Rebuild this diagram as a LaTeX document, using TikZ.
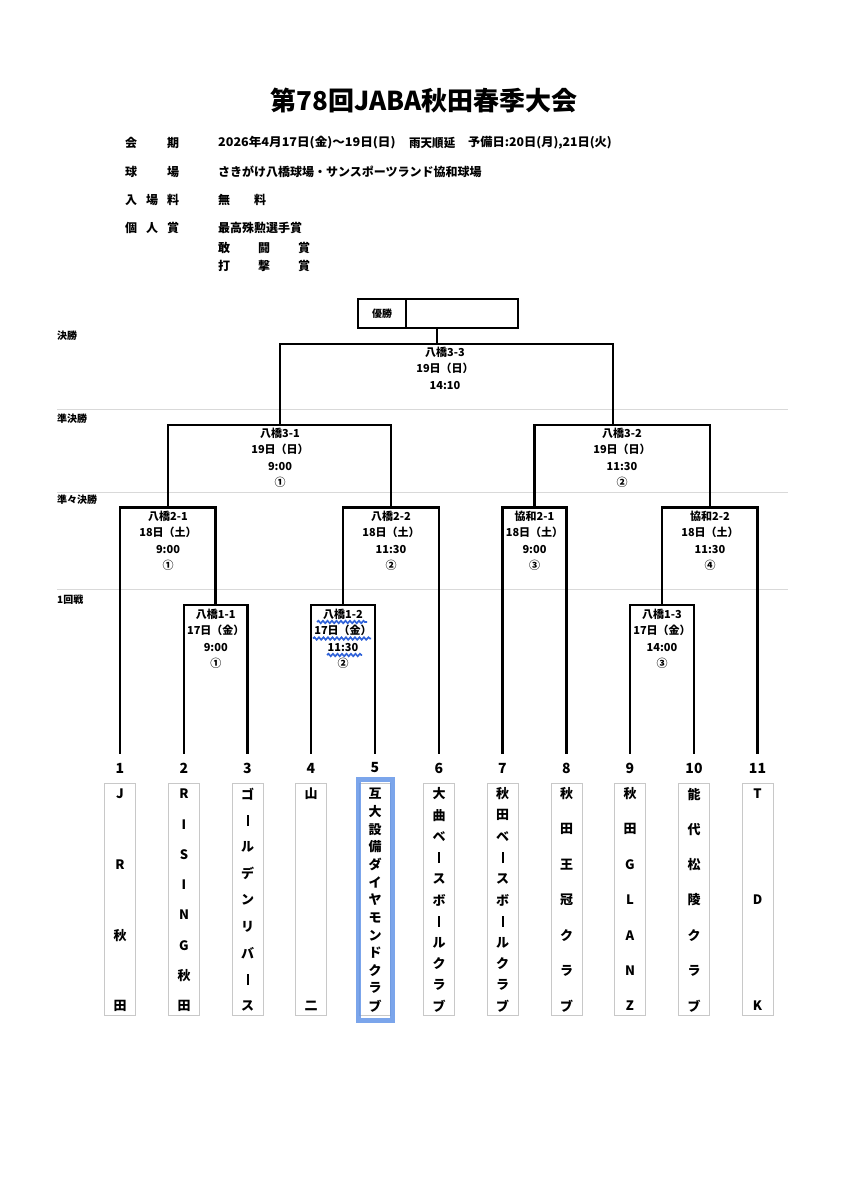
\documentclass[tikz,border=0pt]{standalone}
\usepackage{fontspec}
\setmainfont{Noto Sans CJK JP}
\usetikzlibrary{decorations.pathmorphing}
\definecolor{sepg}{HTML}{D9D9D9}
\definecolor{boxg}{HTML}{C8C8C8}
\definecolor{hlblue}{HTML}{5B8FE6}
\definecolor{wavblue}{HTML}{2F62D9}
\tikzset{
  br/.style={line width=2.8pt, line cap=rect, line join=miter},
  lbl/.style={font=\fontsize{11}{11}\selectfont\bfseries, inner sep=0pt},
  sepline/.style={sepg, line width=0.8pt},
  teambox/.style={draw=boxg, line width=0.9pt, minimum width=31pt, minimum height=232pt, inner sep=0pt},
  tchar/.style={font=\fontsize{13}{13}\selectfont\bfseries, inner sep=0pt},
  tnum/.style={font=\fontsize{14}{14}\selectfont\bfseries, inner sep=0pt},
  rnd/.style={font=\fontsize{10}{10}\selectfont\bfseries, inner sep=0pt, anchor=west},
  hd/.style={font=\fontsize{12}{12}\selectfont\bfseries, inner sep=0pt},
  winbox/.style={draw, line width=2.4pt, minimum height=29pt, inner sep=0pt, anchor=north west},
  wavy/.style={wavblue, line width=1.7pt, decorate, decoration={snake, amplitude=1.2pt, segment length=4.5pt}},
}
\newcommand\vbar{\rule{2pt}{11pt}}
% #1 name, #2 x, #3 first y, #4 list of lines
\newcommand\mlab[4]{%
  \foreach \t [count=\i] in {#4} {\node[lbl] (#1-\i) at (#2, {#3+(\i-1)*16.6}) {\t};}}
% #1 team index, #2 x, #3 number of characters, #4 list
\newcommand\tchars[4]{%
  \foreach \c [count=\i] in {#4} {\node[tchar] (c#1-\i) at (#2, {794+(\i-1)*212/(#3-1)}) {\c};}}
\begin{document}
\begin{tikzpicture}[x=1pt, y=-1pt]
\useasboundingbox (0,0) rectangle (848,1200);
\fill[white] (0,0) rectangle (848,1200);

% title
\node[font=\fontsize{26}{26}\selectfont\bfseries, inner sep=0pt] (title) at (424,100) {第78回JABA秋田春季大会};

% header
\node[hd] (h1a) at (131,143) {会};
\node[hd] (h1b) at (173,143) {期};
\node[hd, anchor=west] (h1v) at (218,143) {\scalebox{1.05}[1]{2026年4月17日(金)～19日(日)}};
\node[hd, anchor=west] (h1w) at (409,143) {\scalebox{0.96}[1]{雨天順延}};
\node[hd, anchor=west] (h1x) at (468,143) {\scalebox{1.02}[1]{予備日:20日(月),21日(火)}};
\node[hd] (h2a) at (131,172) {球};
\node[hd] (h2b) at (173,172) {場};
\node[hd, anchor=west] (h2v) at (218,172) {さきがけ八橋球場・サンスポーツランド協和球場};
\node[hd] (h3a) at (131,200) {入};
\node[hd] (h3b) at (152,200) {場};
\node[hd] (h3c) at (173,200) {料};
\node[hd] (h3v1) at (224,200) {無};
\node[hd] (h3v2) at (260,200) {料};
\node[hd] (h4a) at (131,228) {個};
\node[hd] (h4b) at (152,228) {人};
\node[hd] (h4c) at (173,228) {賞};
\node[hd, anchor=west] (h4v) at (218,228) {最高殊勲選手賞};
\node[hd] (h5a) at (224,248) {敢};
\node[hd] (h5b) at (264,248) {闘};
\node[hd] (h5c) at (304,248) {賞};
\node[hd] (h6a) at (224,266) {打};
\node[hd] (h6b) at (264,266) {撃};
\node[hd] (h6c) at (304,266) {賞};

% round labels and separators
\node[rnd] (rf) at (57,336) {決勝};
\node[rnd] (rs) at (57,419) {準決勝};
\node[rnd] (rq) at (57,500) {準々決勝};
\node[rnd] (r1l) at (57,600) {1回戦};
\draw[sepline] (57,409) -- (788,409);
\draw[sepline] (57,492) -- (788,492);
\draw[sepline] (57,589) -- (788,589);

% winner box
\node[winbox, minimum width=48pt, font=\fontsize{10}{10}\selectfont\bfseries] (winl) at (357,298) {優勝};
\node[winbox, minimum width=112pt] (winr) at (405,298) {};

% coordinates
\coordinate (t1) at (120,753);
\coordinate (t2) at (184,753);
\coordinate (t3) at (247.5,753);
\coordinate (t4) at (311,753);
\coordinate (t5) at (375,753);
\coordinate (t6) at (439,753);
\coordinate (t7) at (502.5,753);
\coordinate (t8) at (566.5,753);
\coordinate (t9) at (630,753);
\coordinate (t10) at (694,753);
\coordinate (t11) at (757.5,753);
\coordinate (r1) at (215.75,605);
\coordinate (r2) at (343,605);
\coordinate (r3) at (662,605);
\coordinate (q1) at (168,507.7);
\coordinate (q2) at (391,507.7);
\coordinate (q3) at (534.5,507.7);
\coordinate (q4) at (710,507.7);
\coordinate (s1) at (280,425);
\coordinate (s2) at (613,425);
\coordinate (f) at (437,344);

% bracket
\draw[br] (t2) |- (r1) -| (t3);
\draw[br] (t4) |- (r2) -| (t5);
\draw[br] (t9) |- (r3) -| (t10);
\draw[br] (t1) |- (q1) -| (r1);
\draw[br] (r2) |- (q2) -| (t6);
\draw[br] (t7) |- (q3) -| (t8);
\draw[br] (r3) |- (q4) -| (t11);
\draw[br] (q1) |- (s1) -| (q2);
\draw[br] (q3) |- (s2) -| (q4);
\draw[br] (s1) |- (f) -| (s2);
\draw[br] (f) -- (f |- winr.south);

% match labels
\mlab{lf}{445}{352}{八橋3-3,19日（日）,14:10}
\mlab{ls1}{280}{433}{八橋3-1,19日（日）,9:00,①}
\mlab{ls2}{622}{433}{八橋3-2,19日（日）,11:30,②}
\mlab{lq1}{168}{516}{八橋2-1,18日（土）,9:00,①}
\mlab{lq2}{391}{516}{八橋2-2,18日（土）,11:30,②}
\mlab{lq3}{534.5}{516}{協和2-1,18日（土）,9:00,③}
\mlab{lq4}{710}{516}{協和2-2,18日（土）,11:30,④}
\mlab{lr1}{215.75}{614}{八橋1-1,17日（金）,9:00,①}
\mlab{lr2}{343}{614}{八橋1-2,17日（金）,11:30,②}
\mlab{lr3}{662}{614}{八橋1-3,17日（金）,14:00,③}

% wavy underlines
\draw[wavy] (317,622) -- (367,622);
\draw[wavy] (313,638.5) -- (371,638.5);
\draw[wavy] (327,655) -- (362,655);

% team numbers and boxes
\foreach \x [count=\k] in {120,184,247.5,311,375,439,502.5,566.5,630,694,757.5} {
  \node[tnum] (n\k) at (\x,768) {\k};
  \node[teambox] (b\k) at (\x,899) {};
}
\tchars{1}{120}{4}{J,R,秋,田}
\tchars{2}{184}{8}{R,I,S,I,N,G,秋,田}
\tchars{3}{247.5}{9}{ゴ,\vbar,ル,デ,ン,リ,バ,\vbar,ス}
\tchars{4}{311}{2}{山,二}
\tchars{5}{375}{13}{互,大,設,備,ダ,イ,ヤ,モ,ン,ド,ク,ラ,ブ}
\tchars{6}{439}{11}{大,曲,ベ,\vbar,ス,ボ,\vbar,ル,ク,ラ,ブ}
\tchars{7}{502.5}{11}{秋,田,ベ,\vbar,ス,ボ,\vbar,ル,ク,ラ,ブ}
\tchars{8}{566.5}{7}{秋,田,王,冠,ク,ラ,ブ}
\tchars{9}{630}{7}{秋,田,G,L,A,N,Z}
\tchars{10}{694}{7}{能,代,松,陵,ク,ラ,ブ}
\tchars{11}{757.5}{3}{T,D,K}

% highlight around team 5
\draw[hlblue, line width=5pt, opacity=0.8] (358,779) rectangle (392,1020);
\end{tikzpicture}
\end{document}
